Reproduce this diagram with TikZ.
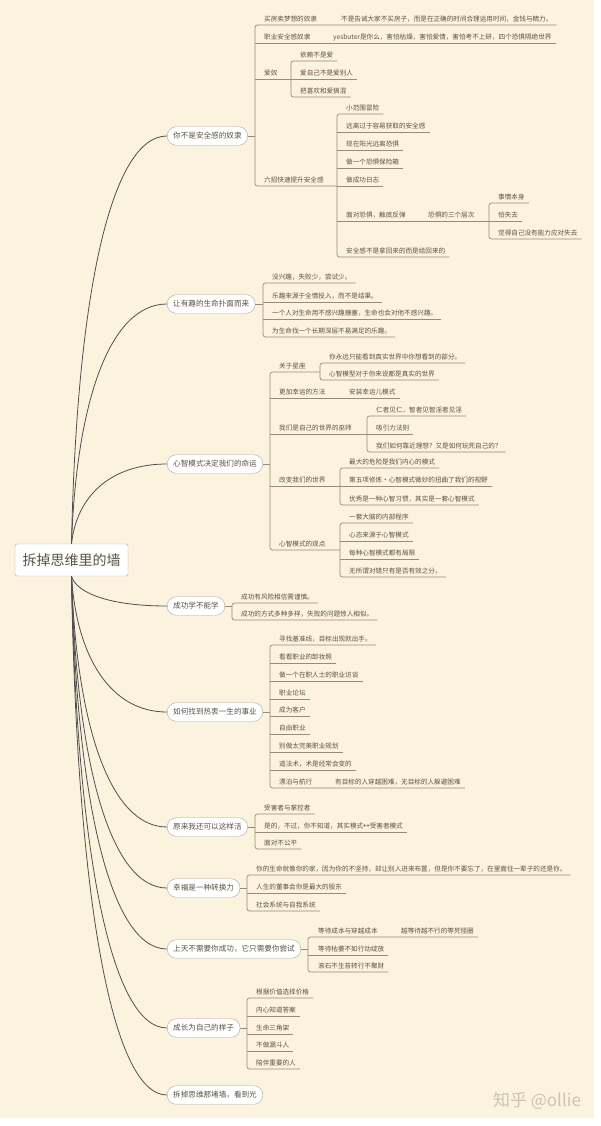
\documentclass[tikz,border=0pt]{standalone}
\usepackage{fontspec}
\setmainfont{Noto Sans CJK SC}
\usepackage{xcolor}
\usepackage{tikz}

\definecolor{paper}{HTML}{FBF3DD}
\definecolor{ink}{HTML}{5B5246}
\definecolor{twig}{HTML}{958C7B}
\definecolor{stem}{HTML}{4F4F4F}
\definecolor{rim}{HTML}{A9A9A9}
\definecolor{fade}{HTML}{CBC4B6}

\begin{document}
\begin{tikzpicture}[
    x=1pt, y=-1pt,
    central/.style={draw=rim, fill=white, rounded corners=1.5pt, minimum width=113pt, minimum height=32pt, inner sep=0pt, font=\fontsize{14}{16}\selectfont, text=ink},
    topic/.style={draw=rim, fill=white, rounded corners=9pt, minimum height=18.5pt, inner xsep=6pt, inner ysep=0pt, anchor=west, font=\fontsize{7.6}{9}\selectfont, text=ink},
    leaf/.style={anchor=south west, inner xsep=4pt, inner ysep=2.2pt, text height=5.8pt, text depth=1pt, font=\fontsize{6.6}{8}\selectfont, text=ink},
    trunk/.style={draw=stem, line width=0.8pt},
    link/.style={draw=twig, line width=0.7pt, rounded corners=2.5pt},
    wm/.style={font=\fontsize{17}{20}\selectfont, text=fade}
]
\useasboundingbox (0,0) rectangle (600,1126);
\fill[white] (0,0) rectangle (600,1126);
\fill[paper] (0,0) rectangle (594,1118);

\node[central] (hub) at (71.5,560) {拆掉思维里的墙};

% main topics
\node[topic] (p1) at (167,136) {你不是安全感的奴隶};
\node[topic] (p2) at (167,304) {让有趣的生命扑面而来};
\node[topic] (p3) at (167,464) {心智模式决定我们的命运};
\node[topic] (p4) at (167,606) {成功学不能学};
\node[topic] (p5) at (167,712) {如何找到热衷一生的事业};
\node[topic] (p6) at (167,827) {原来我还可以这样活};
\node[topic] (p7) at (167,888) {幸福是一种转换力};
\node[topic] (p8) at (167,949) {上天不需要你成功，它只需要你尝试};
\node[topic] (p9) at (167,1028) {成长为自己的样子};
\node[topic] (p10) at (167,1095) {拆掉思维那堵墙，看到光};

\draw[trunk] (hub.north) .. controls +(5,-244) and +(-57,0) .. (p1.west);
\draw[trunk] (hub.north) .. controls +(5,-143) and +(-57,0) .. (p2.west);
\draw[trunk] (hub.north) .. controls +(5,-47) and +(-57,0) .. (p3.west);
\draw[trunk] (hub.south) .. controls +(5,17) and +(-57,0) .. (p4.west);
\draw[trunk] (hub.south) .. controls +(5,80) and +(-57,0) .. (p5.west);
\draw[trunk] (hub.south) .. controls +(5,149) and +(-57,0) .. (p6.west);
\draw[trunk] (hub.south) .. controls +(5,186) and +(-57,0) .. (p7.west);
\draw[trunk] (hub.south) .. controls +(5,223) and +(-57,0) .. (p8.west);
\draw[trunk] (hub.south) .. controls +(5,270) and +(-57,0) .. (p9.west);
\draw[trunk] (hub.south) .. controls +(5,310) and +(-57,0) .. (p10.west);

% 你不是安全感的奴隶
\node[leaf] (a1) at (260,25) {买房卖梦想的奴隶};
\node[leaf] (a1x) at (337,25) {不是告诫大家不买房子，而是在正确的时间合理运用时间，金钱与精力。};
\node[leaf] (a2) at (260,43) {职业安全感奴隶};
\node[leaf] (a2x) at (329,43) {yesbuter是你么，害怕枯燥，害怕爱情，害怕考不上研，四个恐惧隔绝世界};
\node[leaf] (a3) at (260,79) {爱奴};
\node[leaf] (a31) at (296,61) {依赖不是爱};
\node[leaf] (a32) at (296,79) {爱自己不是爱别人};
\node[leaf] (a33) at (296,97) {把喜欢和爱搞混};
\node[leaf] (a4) at (260,186) {六招快速提升安全感};
\node[leaf] (a41) at (342,114) {小范围冒险};
\node[leaf] (a42) at (342,132) {远离过于容易获取的安全感};
\node[leaf] (a43) at (342,150) {现在阳光远离恐惧};
\node[leaf] (a44) at (342,168) {做一个恐惧保险箱};
\node[leaf] (a45) at (342,186) {做成功日志};
\node[leaf] (a46) at (342,221) {面对恐惧，触底反弹};
\node[leaf] (a46x) at (424,221) {恐惧的三个层次};
\node[leaf] (a461) at (494,203) {事情本身};
\node[leaf] (a462) at (494,221) {怕失去};
\node[leaf] (a463) at (494,239) {觉得自己没有能力应对失去};
\node[leaf] (a47) at (342,257) {安全感不是拿回来的而是给回来的};

\coordinate (b1) at (255,136);
\coordinate (b13) at (291,79);
\coordinate (b14) at (337,186);
\coordinate (b146) at (489,221);
\draw[link] (p1.east) -- (b1);
\draw[link] (a1x.south east) -- (a1.south -| b1) -- (a4.south -| b1) -- (b14);
\draw[link] (a2.south -| b1) -- (a2x.south east);
\draw[link] (a3.south -| b1) -- (b13);
\draw[link] (a31.south east) -- (a31.south -| b13) -- (a33.south -| b13) -- (a33.south east);
\draw[link] (b13) -- (a32.south east);
\draw[link] (a41.south east) -- (a41.south -| b14) -- (a47.south -| b14) -- (a47.south east);
\foreach \n in {a42,a43,a44,a45} \draw[link] (\n.south -| b14) -- (\n.south east);
\draw[link] (a46.south -| b14) -- (b146);
\draw[link] (a461.south east) -- (a461.south -| b146) -- (a463.south -| b146) -- (a463.south east);
\draw[link] (b146) -- (a462.south east);

% 让有趣的生命扑面而来
\node[leaf] (c1) at (268,283) {没兴趣，失败少，尝试少。};
\node[leaf] (c2) at (268,302) {乐趣来源于全情投入，而不是结果。};
\node[leaf] (c3) at (268,319) {一个人对生命用不感兴趣搪塞，生命也会对他不感兴趣。};
\node[leaf] (c4) at (268,337) {为生命找一个长期深层不易满足的乐趣。};

\coordinate (b2) at (263,304);
\draw[link] (p2.east) -- (b2);
\draw[link] (c1.south east) -- (c1.south -| b2) -- (c4.south -| b2) -- (c4.south east);
\foreach \n in {c2,c3} \draw[link] (\n.south -| b2) -- (\n.south east);

% 心智模式决定我们的命运
\node[leaf] (d1) at (275,372) {关于星座};
\node[leaf] (d11) at (325,363) {你永远只能看到真实世界中你想看到的部分。};
\node[leaf] (d12) at (325,380) {心智模型对于你来说都是真实的世界};
\node[leaf] (d2) at (275,398) {更加幸运的方法};
\node[leaf] (d2x) at (345,398) {安装幸运儿模式};
\node[leaf] (d3) at (275,434) {我们是自己的世界的巫师};
\node[leaf] (d31) at (372,416) {仁者见仁，智者见智淫者见淫};
\node[leaf] (d32) at (372,434) {吸引力法则};
\node[leaf] (d33) at (372,452) {我们如何靠近理想？又是如何玩死自己的？};
\node[leaf] (d4) at (275,486) {改变我们的世界};
\node[leaf] (d41) at (345,468) {最大的危险是我们内心的模式};
\node[leaf] (d42) at (345,486) {第五项修炼·心智模式微妙的扭曲了我们的视野};
\node[leaf] (d43) at (345,505) {优秀是一种心智习惯，其实是一套心智模式};
\node[leaf] (d5) at (275,550) {心智模式的观点};
\node[leaf] (d51) at (345,523) {一套大脑的内部程序};
\node[leaf] (d52) at (345,541) {心态来源于心智模式};
\node[leaf] (d53) at (345,559) {每种心智模式都有局限};
\node[leaf] (d54) at (345,577) {无所谓对错只有是否有效之分。};

\coordinate (b3) at (270,464);
\coordinate (b31) at (320,372);
\coordinate (b33) at (367,434);
\coordinate (b34) at (340,486);
\coordinate (b35) at (340,550);
\draw[link] (p3.east) -- (b3);
\draw[link] (b31) -- (d1.south -| b3) -- (d5.south -| b3) -- (b35);
\draw[link] (d2.south -| b3) -- (d2x.south east);
\draw[link] (d3.south -| b3) -- (b33);
\draw[link] (d4.south -| b3) -- (b34);
\draw[link] (d11.south east) -- (d11.south -| b31) -- (d12.south -| b31) -- (d12.south east);
\draw[link] (d31.south east) -- (d31.south -| b33) -- (d33.south -| b33) -- (d33.south east);
\draw[link] (b33) -- (d32.south east);
\draw[link] (d41.south east) -- (d41.south -| b34) -- (d43.south -| b34) -- (d43.south east);
\draw[link] (b34) -- (d42.south east);
\draw[link] (d51.south east) -- (d51.south -| b35) -- (d54.south -| b35) -- (d54.south east);
\foreach \n in {d52,d53} \draw[link] (\n.south -| b35) -- (\n.south east);

% 成功学不能学
\node[leaf] (e1) at (237,603) {成功有风险相信需谨慎。};
\node[leaf] (e2) at (237,620) {成功的方式多种多样，失败的问题惊人相似。};

\coordinate (b4) at (232,606);
\draw[link] (p4.east) -- (b4);
\draw[link] (e1.south east) -- (e1.south -| b4) -- (e2.south -| b4) -- (e2.south east);

% 如何找到热衷一生的事业
\node[leaf] (f1) at (275,645) {寻找基准线，目标出现就出手。};
\node[leaf] (f2) at (275,663) {看看职业的卸妆照};
\node[leaf] (f3) at (275,681) {做一个在职人士的职业访谈};
\node[leaf] (f4) at (275,699) {职业论坛};
\node[leaf] (f5) at (275,716) {成为客户};
\node[leaf] (f6) at (275,734) {自由职业};
\node[leaf] (f7) at (275,752) {别做太完美职业规划};
\node[leaf] (f8) at (275,770) {道法术，术是经常会变的};
\node[leaf] (f9) at (275,788) {漂泊与航行};
\node[leaf] (f9x) at (331,788) {有目标的人穿越困难，无目标的人躲避困难};

\coordinate (b5) at (270,712);
\draw[link] (p5.east) -- (b5);
\draw[link] (f1.south east) -- (f1.south -| b5) -- (f9.south -| b5) -- (f9x.south east);
\foreach \n in {f2,f3,f4,f5,f6,f7,f8} \draw[link] (\n.south -| b5) -- (\n.south east);

% 原来我还可以这样活
\node[leaf] (g1) at (260,814) {受害者与掌控者};
\node[leaf] (g2) at (260,832) {是的，不过，你不知道，其实模式↔受害者模式};
\node[leaf] (g3) at (260,849) {面对不公平};

\coordinate (b6) at (255,827);
\draw[link] (p6.east) -- (b6);
\draw[link] (g1.south east) -- (g1.south -| b6) -- (g3.south -| b6) -- (g3.south east);
\draw[link] (g2.south -| b6) -- (g2.south east);

% 幸福是一种转换力
\node[leaf] (h1) at (252,875) {你的生命就像你的家，因为你的不坚持，却让别人进来布置，但是你不要忘了，在里面住一辈子的还是你。};
\node[leaf] (h2) at (252,893) {人生的董事会你是最大的股东};
\node[leaf] (h3) at (252,911) {社会系统与自我系统};

\coordinate (b7) at (247,888);
\draw[link] (p7.east) -- (b7);
\draw[link] (h1.south east) -- (h1.south -| b7) -- (h3.south -| b7) -- (h3.south east);
\draw[link] (h2.south -| b7) -- (h2.south east);

% 上天不需要你成功，它只需要你尝试
\node[leaf] (i1) at (314,937) {等待成本与穿越成本};
\node[leaf] (i1x) at (397,937) {越等待越不行的等死怪圈};
\node[leaf] (i2) at (314,955) {等待枯萎不如行动绽放};
\node[leaf] (i3) at (314,972) {滚石不生苔转行不聚财};

\coordinate (b8) at (308,949);
\draw[link] (p8.east) -- (b8);
\draw[link] (i1x.south east) -- (i1.south -| b8) -- (i3.south -| b8) -- (i3.south east);
\draw[link] (i2.south -| b8) -- (i2.south east);

% 成长为自己的样子
\node[leaf] (j1) at (252,998) {根据价值选择价格};
\node[leaf] (j2) at (252,1016) {内心知道答案};
\node[leaf] (j3) at (252,1034) {生命三角架};
\node[leaf] (j4) at (252,1051) {不做漏斗人};
\node[leaf] (j5) at (252,1069) {陪伴重要的人};

\coordinate (b9) at (247,1028);
\draw[link] (p9.east) -- (b9);
\draw[link] (j1.south east) -- (j1.south -| b9) -- (j5.south -| b9) -- (j5.south east);
\foreach \n in {j2,j3,j4} \draw[link] (\n.south -| b9) -- (\n.south east);

\node[wm] (mark1) at (537,1101) {知乎 @ollie};
\end{tikzpicture}
\end{document}
